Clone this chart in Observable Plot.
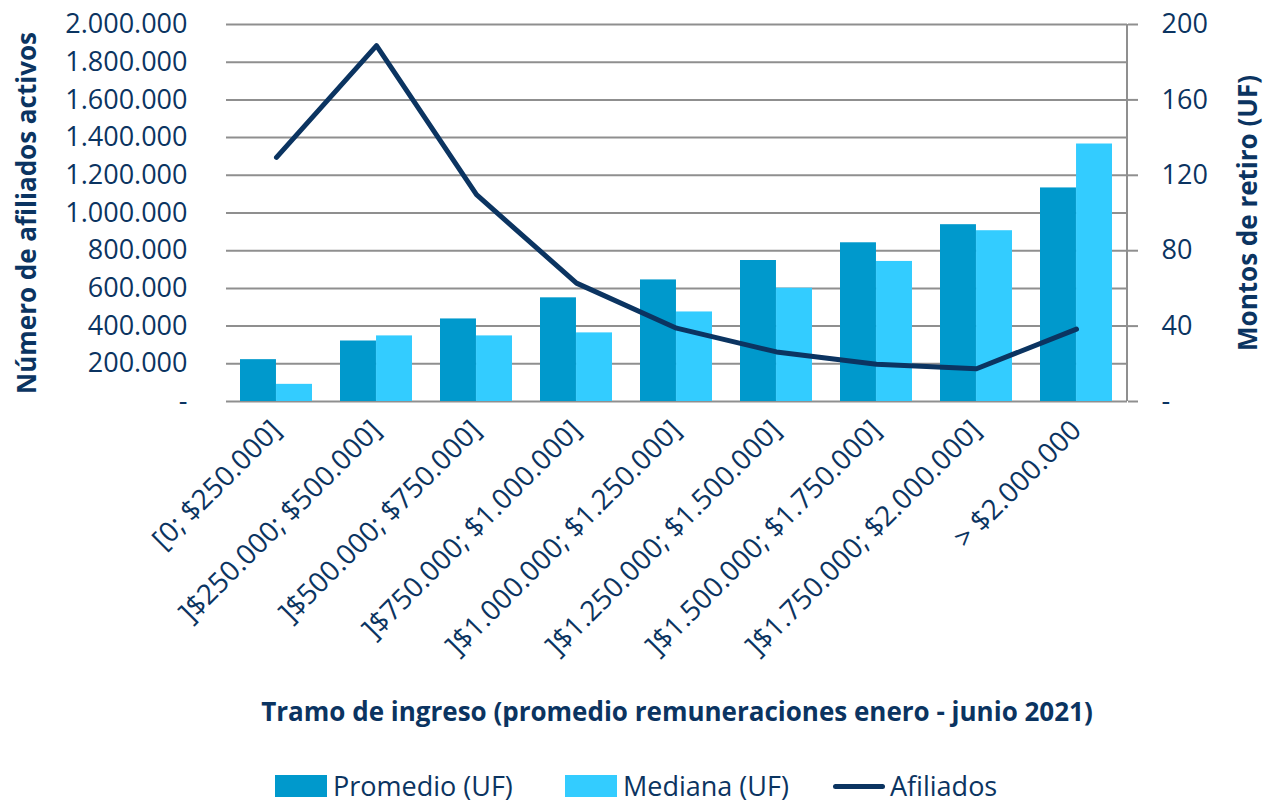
<!DOCTYPE html>
<html>
<head>
<meta charset="utf-8">
<script src="https://cdn.jsdelivr.net/npm/d3@7"></script>
<script src="https://cdn.jsdelivr.net/npm/@observablehq/plot@0.6"></script>
<style>
  html, body { margin: 0; padding: 0; background: #fff; }
  #chart { width: 1264px; }
  .legend { position: relative; height: 40px; font-family: "Open Sans", sans-serif; font-size: 27px; line-height: 40px; color: #0b3461; }
  .legend .item { display: flex; align-items: center; position: absolute; top: 0; height: 40px; white-space: nowrap; }
  .legend .sw { display: inline-block; width: 52px; height: 22px; margin-right: 6px; }
  .legend .ln { display: inline-block; width: 52px; height: 5px; border-radius: 3px; margin-right: 5px; background: #0b3461; }
</style>
</head>
<body>
<div id="chart"></div>
<script>
const categories = [
  "[0; $250.000]",
  "]$250.000; $500.000]",
  "]$500.000; $750.000]",
  "]$750.000; $1.000.000]",
  "]$1.000.000; $1.250.000]",
  "]$1.250.000; $1.500.000]",
  "]$1.500.000; $1.750.000]",
  "]$1.750.000; $2.000.000]",
  "> $2.000.000"
];
const promedioUF = [22.2, 32.1, 43.8, 55.0, 64.5, 74.8, 84.2, 93.8, 113.3];
const medianaUF  = [9.1, 34.8, 34.8, 36.4, 47.5, 60.1, 74.3, 90.6, 136.6];
const afiliados  = [1295000, 1888000, 1097000, 628000, 389000, 263000, 198000, 174000, 384000];
const leftTicks  = [0, 200000, 400000, 600000, 800000, 1000000, 1200000, 1400000, 1600000, 1800000, 2000000];
const rightTicksUF = [0, 40, 80, 120, 160, 200];
const seriesNames = ["Promedio (UF)", "Mediana (UF)", "Afiliados"];
const colors = ["#0099cc", "#33ccff", "#0b3461"];
const leftTitle = "Número de afiliados activos";
const rightTitle = "Montos de retiro (UF)";
const xTitle = "Tramo de ingreso (promedio remuneraciones enero - junio 2021)";

const ratio = 2000000 / 200; // right axis (UF) mapped onto the left scale
const locale = d3.formatLocale({decimal: ",", thousands: ".", grouping: [3], currency: ["$", ""]});
const fmt = locale.format(",d");

const rows = categories.map((c, i) => ({cat: c, prom: promedioUF[i] * ratio, med: medianaUF[i] * ratio, af: afiliados[i]}));

const W = 1264, H = 766, mL = 226, mR = 137, mT = 24, mB = H - 401;
const step = (W - mL - mR) / categories.length;
const bw = step * 0.72;
const textColor = "#0b3461";
const grid = "#8f8f8f";

// right-side axis line drawn along the frame edge
const rightAxisLine = (index, scales, values, dims) => {
  const g = d3.create("svg:g");
  g.append("line")
    .attr("x1", dims.width - dims.marginRight).attr("x2", dims.width - dims.marginRight)
    .attr("y1", dims.marginTop).attr("y2", dims.height - dims.marginBottom)
    .attr("stroke", grid).attr("stroke-width", 2);
  return g.node();
};

const plot = Plot.plot({
  width: W, height: H,
  marginLeft: mL, marginRight: mR, marginTop: mT, marginBottom: mB,
  style: {fontFamily: "Open Sans, sans-serif", fontSize: "27px", color: textColor, background: "#fff"},
  x: {domain: categories, paddingInner: 0.28, paddingOuter: 0.14},
  y: {domain: [0, 2000000]},
  marks: [
    Plot.ruleY(leftTicks, {stroke: grid, strokeWidth: 2}),
    rightAxisLine,
    Plot.barY(rows, {x: "cat", y: "prom", fill: colors[0], insetRight: bw / 2}),
    Plot.barY(rows, {x: "cat", y: "med", fill: colors[1], insetLeft: bw / 2}),
    Plot.line(rows, {x: "cat", y: "af", stroke: colors[2], strokeWidth: 5}),
    Plot.axisY(leftTicks, {anchor: "left", tickSize: 0, tickPadding: 39, label: null, fill: textColor,
      tickFormat: d => d === 0 ? "-" : fmt(d)}),
    Plot.axisY(rightTicksUF.map(d => d * ratio), {anchor: "right", tickSize: 10, tickPadding: 24, label: null,
      stroke: grid, strokeWidth: 2, fill: textColor,
      tickFormat: d => d === 0 ? "-" : String(d / ratio)}),
    Plot.axisX({tickRotate: -45, tickSize: 0, tickPadding: 24, label: null, fill: textColor, fontSize: 28}),
    Plot.text([leftTitle], {text: d => d, frameAnchor: "left", textAnchor: "middle", dx: 27 - mL, rotate: -90, fill: textColor, fontWeight: "bold", fontSize: 26}),
    Plot.text([rightTitle], {text: d => d, frameAnchor: "right", textAnchor: "middle", dx: 1248 - (W - mR), rotate: -90, fill: textColor, fontWeight: "bold", fontSize: 26}),
    Plot.text([xTitle], {text: d => d, frameAnchor: "bottom", lineAnchor: "middle", dy: 311, fill: textColor, fontWeight: "bold", fontSize: 26})
  ]
});
document.getElementById("chart").appendChild(plot);

const legend = document.createElement("div");
legend.className = "legend";
const lefts = [275, 565, 833];
seriesNames.forEach((name, i) => {
  const item = document.createElement("div");
  item.className = "item";
  item.style.left = lefts[i] + "px";
  const sw = document.createElement("span");
  if (i < 2) { sw.className = "sw"; sw.style.background = colors[i]; }
  else { sw.className = "ln"; }
  item.appendChild(sw);
  const t = document.createElement("span");
  t.textContent = name;
  item.appendChild(t);
  legend.appendChild(item);
});
document.body.appendChild(legend);
</script>
</body>
</html>
